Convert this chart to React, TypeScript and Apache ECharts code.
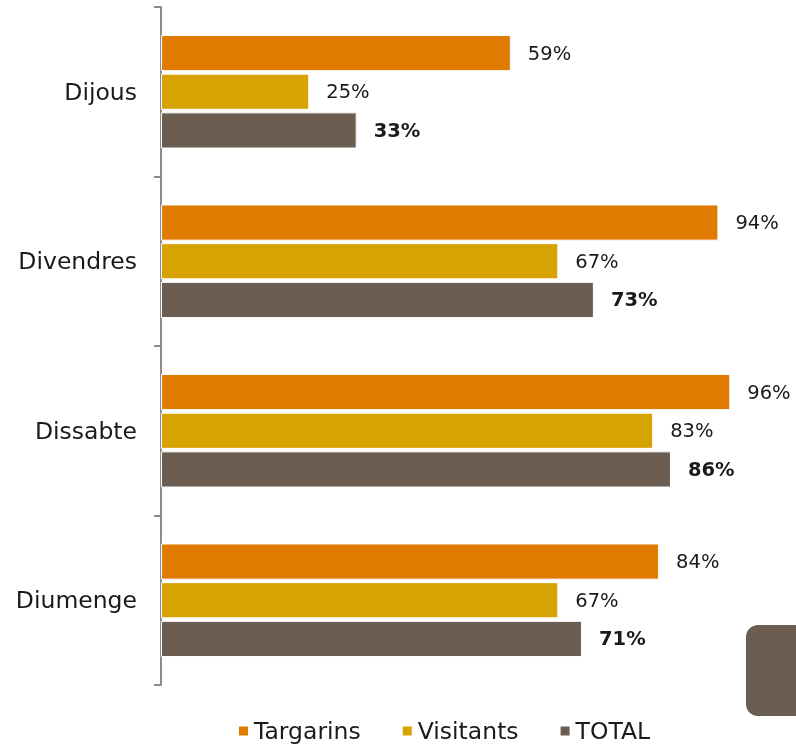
import React, { useEffect, useRef } from "react";
import * as echarts from "echarts";

const categories = ["Dijous", "Divendres", "Dissabte", "Diumenge"];
const targarins = [59, 94, 96, 84];
const visitants = [25, 67, 83, 67];
const total = [33, 73, 86, 71];
const seriesNames = ["Targarins", "Visitants", "TOTAL"];
const colors = ["#E07B00", "#D6A300", "#6B5D50"];

const FONT = "DejaVu Sans";

export default function App() {
  const ref = useRef<HTMLDivElement>(null);
  useEffect(() => {
    if (!ref.current) return;
    const chart = echarts.init(ref.current, undefined, { renderer: "svg" });
    const mk = (name: string, data: number[], color: string, bold: boolean) => ({
      name,
      type: "bar",
      data,
      barCategoryGap: "33%",
      barGap: "7%",
      itemStyle: { color, borderColor: "#ffffff", borderWidth: 1 },
      label: {
        show: true,
        position: "right",
        distance: 17,
        formatter: "{c}%",
        fontFamily: FONT,
        fontSize: 19.5,
        fontWeight: bold ? "bold" : "normal",
        color: "#1a1a1a",
      },
    });
    chart.setOption({
      animation: false,
      textStyle: { fontFamily: FONT },
      grid: { left: 161, right: 42, top: 7, bottom: 63 },
      xAxis: { type: "value", min: 0, max: 100, show: false },
      yAxis: {
        type: "category",
        data: categories,
        inverse: true,
        axisLine: { show: true, lineStyle: { color: "#8c8c8c", width: 2 } },
        axisTick: { show: true, length: 7, lineStyle: { color: "#8c8c8c", width: 2 } },
        axisLabel: { fontFamily: FONT, fontSize: 23.5, color: "#1a1a1a", margin: 24 },
      },
      legend: {
        left: 232,
        bottom: 0,
        icon: "rect",
        itemWidth: 11,
        itemHeight: 11,
        itemGap: 40,
        textStyle: { fontFamily: FONT, fontSize: 23.5, color: "#1a1a1a" },
        data: seriesNames,
      },
      series: [
        mk(seriesNames[0], targarins, colors[0], false),
        mk(seriesNames[1], visitants, colors[1], false),
        mk(seriesNames[2], total, colors[2], true),
      ],
      graphic: [
        {
          type: "rect",
          left: 746,
          top: 625,
          shape: { width: 70, height: 91, r: 12 },
          style: { fill: "#6B5D50" },
        },
      ],
    });
    return () => chart.dispose();
  }, []);
  return (
    <div
      ref={ref}
      style={{ position: "fixed", left: 0, top: 0, width: 796, height: 748 }}
    />
  );
}
